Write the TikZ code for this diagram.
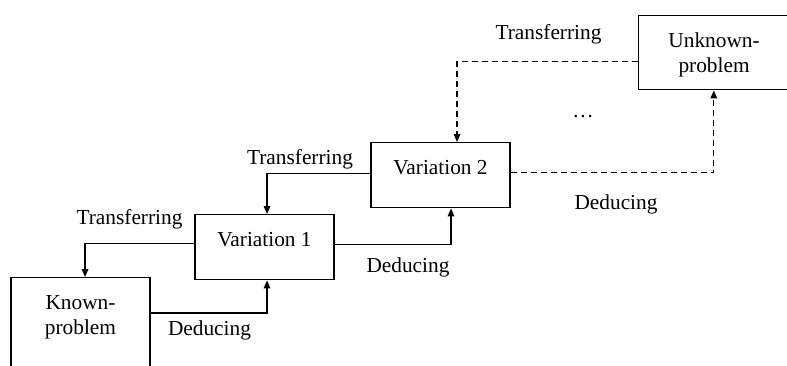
\documentclass[tikz,border=0pt]{standalone}
\usepackage{fontspec}
\setmainfont{Liberation Serif}
\usetikzlibrary{arrows.meta}

\begin{document}
\begin{tikzpicture}[x=0.75pt,y=-0.75pt,
    font=\fontsize{16}{18.75}\selectfont,
    box/.style={draw,line width=1.1pt,minimum width=104.25pt,inner sep=0pt,align=center},
    flow/.style={line width=0.9pt,-{Triangle[length=6pt,width=5pt]}},
    guess/.style={flow,dash pattern=on 4.5pt off 3pt}]
\useasboundingbox (0,0) rectangle (787,365);
% boxes (the outer two run past the edge)
\node[box,anchor=north,text height=42.75pt,text depth=60pt] (known) at (80.5,277) {Known-\\problem};
\node[box,anchor=north,text height=24pt,text depth=24.75pt] (v1) at (264.5,214) {Variation 1};
\node[box,anchor=north,text height=24pt,text depth=24.75pt] (v2) at (440.5,142) {Variation 2};
\node[box,anchor=north west,minimum width=116pt,text height=42.75pt,text depth=12.75pt] (unknown) at (638,15) {\hspace*{-3pt}Unknown-\\\hspace*{-3pt}problem};
% solid steps
\draw[flow] ([yshift=2.6pt]v1.west) -| ([xshift=3.4pt]known.north);
\draw[flow] ([yshift=-27pt]known.north east) -| ([xshift=1.9pt]v1.south);
\draw[flow] ([yshift=1.1pt]v2.west) -| ([xshift=1.9pt]v1.north);
\draw[flow] ([yshift=1.9pt]v1.east) -| ([xshift=7.9pt]v2.south);
% dashed steps
\draw[guess] ([yshift=-6.75pt]unknown.west) -| ([xshift=12.4pt]v2.north);
\draw[guess] ([yshift=1.9pt]v2.east) -| ([xshift=-1.7pt]unknown.south);
% labels
\node (tr1) at (129.5,219) {Transferring};
\node (de1) at (209.5,330) {Deducing};
\node (tr2) at (300,159.5) {Transferring};
\node (de2) at (408,267) {Deducing};
\node (tr3) at (548.5,34.5) {Transferring};
\node (de3) at (616,204) {Deducing};
\node (more) at (583,117) {\ldots};
\end{tikzpicture}
\end{document}
